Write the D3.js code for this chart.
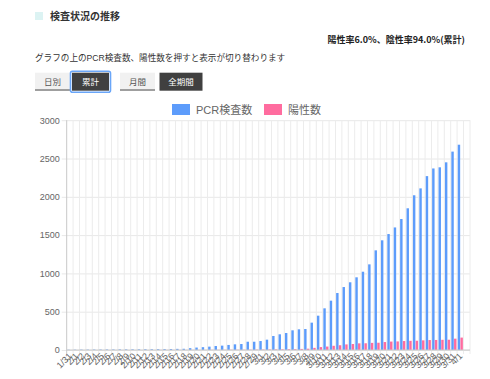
<!DOCTYPE html>
<html>
<head>
<meta charset="utf-8">
<script src="https://cdn.jsdelivr.net/npm/d3@7"></script>
<style>
  body { margin: 0; background: #fff; }
  svg { display: block; font-family: "Liberation Sans", "Noto Sans CJK JP", sans-serif; }
</style>
</head>
<body>
<div id="chart"></div>
<script>
// Dates (x categories)
const dates = ["1/31",
  "2/1","2/2","2/3","2/4","2/5","2/6","2/7","2/8","2/9","2/10","2/11","2/12","2/13","2/14","2/15",
  "2/16","2/17","2/18","2/19","2/20","2/21","2/22","2/23","2/24","2/25","2/26","2/27","2/28","2/29",
  "3/1","3/2","3/3","3/4","3/5","3/6","3/7","3/8","3/9","3/10","3/11","3/12","3/13","3/14","3/15",
  "3/16","3/17","3/18","3/19","3/20","3/21","3/22","3/23","3/24","3/25","3/26","3/27","3/28","3/29",
  "3/30","3/31","4/1"];

// Cumulative PCR tests
const pcrTotals = [3,4,5,5,6,6,7,7,8,8,9,9,10,10,11,12,
  13,15,16,24,32,37,44,52,57,66,74,78,
  108,108,117,135,183,205,222,257,270,274,357,448,544,644,744,822,884,949,1022,1118,1301,1432,1514,
  1600,1710,1850,2020,2110,2270,2370,2385,2450,2590,2680];

// Cumulative positives
const positiveTotals = [0,0,0,0,0,0,0,0,0,0,0,0,0,0,1,1,1,1,1,1,
  1,1,2,2,2,3,3,3,4,5,
  6,7,8,9,10,11,
  14,17,28,38,45,55,62,73,78,87,88,
  93,95,104,110,112,117,120,121,126,130,131,133,134,148,162];

const seriesNames = ["PCR検査数", "陽性数"];
const seriesColors = ["#5d9cfb", "#ff6c9f"];
const yTicks = [0, 500, 1000, 1500, 2000, 2500, 3000];

const buttons = [
  { label: "日別", x: 35, w: 35, on: false },
  { label: "累計", x: 72, w: 37, on: true, focus: true },
  { label: "月間", x: 120, w: 35, on: false },
  { label: "全期間", x: 159.5, w: 43, on: true }
];

const W = 490, H = 379;
const svg = d3.select("#chart").append("svg")
  .attr("width", W)
  .attr("height", H);

// Header
svg.append("rect").attr("x", 35).attr("y", 12).attr("width", 8).attr("height", 8).attr("fill", "#dcf3f3");
svg.append("text").attr("x", 50).attr("y", 19.5)
  .attr("font-size", 10).attr("font-weight", "bold").attr("fill", "#333")
  .text("検査状況の推移");

svg.append("text").attr("x", 465).attr("y", 42.5)
  .attr("text-anchor", "end")
  .attr("font-size", 9).attr("font-weight", "bold").attr("fill", "#222")
  .attr("font-family", "Noto Sans CJK JP, sans-serif")
  .text("陽性率6.0%、陰性率94.0%(累計)");

svg.append("text").attr("x", 35).attr("y", 60.8)
  .attr("font-size", 8.6).attr("fill", "#333")
  .text("グラフの上のPCR検査数、陽性数を押すと表示が切り替わります");

// Buttons
const btn = svg.append("g").selectAll("g")
  .data(buttons)
  .enter()
  .append("g");

btn.filter(d => d.focus).append("rect")
  .attr("x", d => d.x - 1.5).attr("y", 71.3)
  .attr("width", d => d.w + 3).attr("height", 21)
  .attr("rx", 2)
  .attr("fill", "none").attr("stroke", "#6aa6f8").attr("stroke-width", 1.6);

btn.append("rect")
  .attr("x", d => d.x).attr("y", 72.7)
  .attr("width", d => d.w).attr("height", 18)
  .attr("fill", d => d.on ? "#404040" : "#f1f1f1");

btn.filter(d => !d.on).append("rect")
  .attr("x", d => d.x).attr("y", 89.2)
  .attr("width", d => d.w).attr("height", 1.6)
  .attr("fill", "#8a8a8a");

btn.append("text")
  .attr("x", d => d.x + d.w / 2).attr("y", 84.7)
  .attr("text-anchor", "middle")
  .attr("font-size", 8.5)
  .attr("fill", d => d.on ? "#fff" : "#555")
  .text(d => d.label);

// Legend
const legend = svg.append("g").selectAll("g")
  .data(seriesNames)
  .enter()
  .append("g")
  .attr("transform", (d, i) => `translate(${i === 0 ? 172 : 264},104)`);

legend.append("rect")
  .attr("width", 18).attr("height", 11)
  .attr("fill", (d, i) => seriesColors[i]);

legend.append("text")
  .attr("x", 24).attr("y", 9.5)
  .attr("font-size", 11).attr("fill", "#666")
  .text(d => d);

// Plot area
const plotLeft = 66.7, plotTop = 120.2, plotBottom = 350, bandRight = 463.5, gridRight = 470;

const x0 = d3.scaleBand()
  .domain(dates)
  .range([plotLeft, bandRight]);

const x1 = d3.scaleBand()
  .domain([0, 1])
  .range([x0.bandwidth() * 0.1, x0.bandwidth() * 0.9])
  .paddingInner(0.1);

const y = d3.scaleLinear()
  .domain([0, 3000])
  .range([plotBottom, plotTop]);

// Horizontal grid + y ticks
svg.append("g")
  .attr("transform", `translate(${plotLeft},0)`)
  .call(d3.axisLeft(y).tickValues(yTicks).tickFormat(d3.format("d"))
    .tickSize(-(gridRight - plotLeft)).tickSizeOuter(0).tickPadding(7))
  .call(g => g.select(".domain").remove())
  .call(g => g.selectAll(".tick line").attr("stroke", "#e8e8e8").attr("x1", -5))
  .call(g => g.selectAll(".tick text")
    .attr("fill", "#666").attr("font-size", 9)
    .attr("font-family", "Liberation Sans, sans-serif"));

// Vertical grid at category boundaries
const boundaries = dates.map(d => x0(d)).concat([bandRight, gridRight]);
svg.append("g").selectAll("line")
  .data(boundaries.slice(1))
  .enter()
  .append("line")
  .attr("x1", d => d).attr("x2", d => d)
  .attr("y1", plotTop).attr("y2", plotBottom + 4)
  .attr("stroke", "#ececec");

// Bars
const groups = svg.append("g").selectAll("g")
  .data(dates.map((d, i) => ({ date: d, vals: [pcrTotals[i], positiveTotals[i]] })))
  .enter()
  .append("g")
  .attr("transform", d => `translate(${x0(d.date)},0)`);

groups.selectAll("rect")
  .data(d => d.vals)
  .enter()
  .append("rect")
  .attr("x", (v, i) => x1(i))
  .attr("y", v => y(v))
  .attr("width", x1.bandwidth())
  .attr("height", v => plotBottom - y(v))
  .attr("fill", (v, i) => seriesColors[i]);

// Axes lines
svg.append("line")
  .attr("x1", plotLeft).attr("x2", plotLeft)
  .attr("y1", plotTop).attr("y2", plotBottom + 4)
  .attr("stroke", "#c8c8c8");

svg.append("g")
  .attr("transform", `translate(0,${plotBottom})`)
  .call(d3.axisBottom(x0).tickSize(0).tickPadding(0))
  .call(g => g.select(".domain").attr("d", `M${plotLeft},0H${gridRight}`).attr("stroke", "#c8c8c8"))
  .selectAll("text")
  .attr("fill", "#666")
  .attr("font-size", 9)
  .attr("font-family", "Liberation Sans, sans-serif")
  .attr("dy", null)
  .attr("transform", "translate(1,5) rotate(-45)")
  .style("text-anchor", "end")
  .attr("dominant-baseline", "middle");
</script>
</body>
</html>
